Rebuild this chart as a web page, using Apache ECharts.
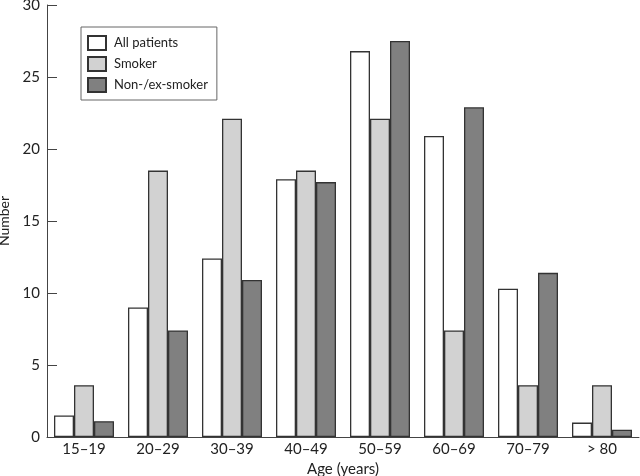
<!DOCTYPE html>
<html>
<head>
<meta charset="utf-8">
<script src="https://cdn.jsdelivr.net/npm/echarts@6/dist/echarts.min.js"></script>
<style>html,body{margin:0;padding:0;background:#fff}#c{width:640px;height:476px}</style>
</head>
<body>
<div id="c"></div>
<script>
const categories = ['15–19', '20–29', '30–39', '40–49', '50–59', '60–69', '70–79', '> 80'];
const allPatients = [1.5, 9.0, 12.4, 17.9, 26.8, 20.9, 10.3, 1.0];
const smoker = [3.6, 18.5, 22.1, 18.5, 22.1, 7.4, 3.6, 3.6];
const nonExSmoker = [1.1, 7.4, 10.9, 17.7, 27.5, 22.9, 11.4, 0.5];
const yTicks = [0, 5, 10, 15, 20, 25, 30];

const font = 'Lato, "DejaVu Sans", sans-serif';
const chart = echarts.init(document.getElementById('c'), null, {renderer: 'canvas'});
function s(name, data, color) {
  return {
    name: name, type: 'bar', data: data, barWidth: 20, barGap: '0%',
    itemStyle: {color: color, borderColor: '#333', borderWidth: 1.3},
    animation: false
  };
}
chart.setOption({
  animation: false,
  textStyle: {fontFamily: font},
  grid: {left: 47, right: 1, top: 5, bottom: 39, containLabel: false, outerBoundsMode: 'none'},
  legend: {
    orient: 'vertical', left: 81, top: 27,
    padding: [8, 9, 7, 6], itemGap: 5, itemWidth: 18, itemHeight: 14,
    icon: 'rect',
    borderColor: '#666', borderWidth: 1,
    textStyle: {fontSize: 13, color: '#222', fontFamily: font, padding: [0, 0, 0, 3]},
    data: ['All patients', 'Smoker', 'Non-/ex-smoker']
  },
  xAxis: {
    type: 'category', data: categories,
    name: 'Age (years)', nameLocation: 'middle', nameGap: 25,
    nameTextStyle: {fontSize: 15, color: '#222'},
    axisLine: {lineStyle: {color: '#444', width: 1}},
    axisTick: {inside: true, length: 9, lineStyle: {color: '#444'}},
    axisLabel: {fontSize: 15, color: '#222', margin: 5}
  },
  yAxis: {
    type: 'value', min: yTicks[0], max: yTicks[yTicks.length - 1], interval: 5,
    name: 'Number', nameLocation: 'middle', nameGap: 29,
    nameTextStyle: {fontSize: 14, color: '#222'},
    axisLine: {show: true, lineStyle: {color: '#444', width: 1}},
    axisTick: {show: true, inside: true, length: 10, lineStyle: {color: '#444'}},
    axisLabel: {fontSize: 15, color: '#222', margin: 7},
    splitLine: {show: false}
  },
  series: [
    s('All patients', allPatients, '#ffffff'),
    s('Smoker', smoker, '#d2d2d2'),
    s('Non-/ex-smoker', nonExSmoker, '#808080')
  ]
});
</script>
</body>
</html>
